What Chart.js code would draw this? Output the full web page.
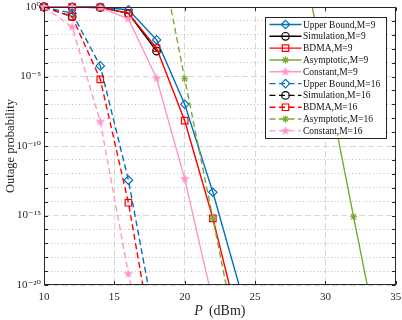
<!DOCTYPE html>
<html><head><meta charset="utf-8">
<script src="https://cdn.jsdelivr.net/npm/chart.js@4/dist/chart.umd.min.js"></script>
<style>html,body{margin:0;padding:0;background:#fff}#wrap{width:402px;height:320px;position:relative}</style>
</head><body><div id="wrap"><canvas id="c"></canvas></div>
<script>
// ---- data ----
const powerM9 = [10, 12, 14, 16, 18, 20, 22, 24];
const upperBoundM9 = [1, 0.99, 0.96, 0.63, 4.3e-3, 1.0e-7, 4.7e-14, 3.2e-21];
const simPowerM9 = [10, 12, 14, 16, 18];
const simulationM9 = [1, 0.99, 0.93, 0.35, 6.8e-4];
const bdmaM9 = [1, 0.99, 0.93, 0.35, 1.1e-3, 6.6e-9, 6.3e-16, 4e-24];
const constPowerM9 = [10, 12, 14, 16, 18, 20, 22];
const constantM9 = [1, 0.98, 0.9, 0.14, 7.4e-6, 4.3e-13, 6.3e-22];
const asymPowerM9 = [28, 30, 32, 34];
const asymptoticM9 = [2.5e5, 1.6e-5, 8.1e-16, 6e-26];

const powerM16 = [10, 12, 14, 16, 18];
const upperBoundM16 = [1, 0.355, 5.8e-5, 3.5e-13, 5e-24];
const simPowerM16 = [10, 12];
const simulationM16 = [1, 0.2];
const bdmaM16 = [1, 0.2, 6.3e-6, 8.3e-15, 2e-26];
const constantM16 = [1, 0.036, 5.6e-9, 6.3e-20, 1e-29];
const asymPowerM16 = [18, 20, 22, 24];
const asymptoticM16 = [1.6e5, 6.9e-6, 6.3e-16, 4e-26];

const xTicks = [10, 15, 20, 25, 30, 35];
const yTickExps = [0,-1,-2,-3,-4,-5,-6,-7,-8,-9,-10,-11,-12,-13,-14,-15,-16,-17,-18,-19,-20];
const yLabelExps = [0, -5, -10, -15, -20];
const seriesLabels = ['Upper Bound,M=9','Simulation,M=9','BDMA,M=9','Asymptotic,M=9','Constant,M=9',
  'Upper Bound,M=16','Simulation,M=16','BDMA,M=16','Asymptotic,M=16','Constant,M=16'];

// ---- styling ----
const FONT = '"Liberation Serif", "DejaVu Serif", serif';
const AXIS = '#262626';
const BLUE = '#0072BD', BLACK = '#000000', RED = '#FF0000', GREEN = '#77AC30', PINK = '#FF96C8';

function starCanvas(color, r) {
  const s = Math.ceil(r * 2 + 2);
  const c = document.createElement('canvas');
  c.width = s; c.height = s;
  const g = c.getContext('2d');
  g.beginPath();
  for (let i = 0; i < 10; i++) {
    const rr = i % 2 ? r * 0.42 : r;
    const a = -Math.PI / 2 + i * Math.PI / 5;
    g.lineTo(s / 2 + rr * Math.cos(a), s / 2 + rr * Math.sin(a));
  }
  g.closePath();
  g.fillStyle = color; g.fill();
  return c;
}
const pinkStar = starCanvas(PINK, 5);

const markers = {
  ub: {pointStyle: 'rectRot', pointRadius: 4.2},
  sim: {pointStyle: 'circle', pointRadius: 3.8},
  bdma: {pointStyle: 'rect', pointRadius: 4.6},
  asym: {pointStyle: 'star', pointRadius: 3.6},
  cons: {pointStyle: pinkStar, pointRadius: 5}
};

function pts(xs, ys) { return xs.map((x, i) => ({x: x, y: ys[i]})); }
function ds(idx, xs, ys, color, mk, dashed, asym) {
  return Object.assign({
    label: seriesLabels[idx],
    data: pts(xs, ys),
    borderColor: color,
    backgroundColor: color,
    borderWidth: 1.4,
    borderDash: dashed ? [6, 3.5] : [],
    pointBorderColor: color,
    pointBackgroundColor: 'rgba(0,0,0,0)',
    pointBorderWidth: 1.2,
    tension: 0,
    fill: false,
    order: 20 - idx,
    clip: asym ? {left: 0, top: 0, right: 0, bottom: 0} : {left: 8, top: 8, right: 0, bottom: 0}
  }, markers[mk]);
}

const datasets = [
  ds(0, powerM9, upperBoundM9, BLUE, 'ub', false),
  ds(1, simPowerM9, simulationM9, BLACK, 'sim', false),
  ds(2, powerM9, bdmaM9, RED, 'bdma', false),
  ds(3, asymPowerM9, asymptoticM9, GREEN, 'asym', false, true),
  ds(4, constPowerM9, constantM9, PINK, 'cons', false),
  ds(5, powerM16, upperBoundM16, BLUE, 'ub', true),
  ds(6, simPowerM16, simulationM16, BLACK, 'sim', true),
  ds(7, powerM16, bdmaM16, RED, 'bdma', true),
  ds(8, asymPowerM16, asymptoticM16, GREEN, 'asym', true, true),
  ds(9, powerM16, constantM16, PINK, 'cons', true)
];

const SUP = {'0':'\u2070','1':'\u00b9','2':'\u00b2','3':'\u00b3','4':'\u2074','5':'\u2075','6':'\u2076','7':'\u2077','8':'\u2078','9':'\u2079','-':'\u207b'};
function expOf(v) { return Math.round(Math.log10(v)); }

const framePlugin = {
  id: 'frame',
  afterDatasetsDraw(chart) {
    const ctx = chart.ctx, a = chart.chartArea, xs = chart.scales.x, ys = chart.scales.y;
    const L = Math.round(a.left) + 0.5, R = Math.round(a.right) - 0.5, T = Math.round(a.top) + 0.5, B = Math.round(a.bottom) - 0.5;
    ctx.save();
    ctx.setLineDash([]);
    ctx.strokeStyle = AXIS; ctx.lineWidth = 1;
    ctx.strokeRect(L, T, R - L, B - T);
    ctx.beginPath();
    xTicks.forEach(v => {
      const px = Math.round(xs.getPixelForValue(v)) + 0.5;
      ctx.moveTo(px, B); ctx.lineTo(px, B - 3.5);
      ctx.moveTo(px, T); ctx.lineTo(px, T + 3.5);
    });
    yTickExps.forEach(e => {
      const py = Math.round(ys.getPixelForValue(Number('1e' + e))) + 0.5;
      ctx.moveTo(L, py); ctx.lineTo(L + 3.5, py);
      ctx.moveTo(R, py); ctx.lineTo(R - 3.5, py);
    });
    ctx.stroke();
    ctx.restore();
  },
  afterDraw(chart) {
    const ctx = chart.ctx, a = chart.chartArea;
    // x axis title with italic P
    ctx.save();
    ctx.fillStyle = AXIS;
    ctx.textBaseline = 'middle';
    ctx.font = 'italic 14px ' + FONT;
    const wP = ctx.measureText('P').width;
    ctx.font = '14px ' + FONT;
    const rest = '(dBm)';
    const wR = ctx.measureText(rest).width;
    const gap = 6;
    const cx = (a.left + a.right) / 2;
    let x0 = cx - (wP + gap + wR) / 2;
    const ty = 311.5;
    ctx.font = 'italic 14px ' + FONT;
    ctx.fillText('P', x0, ty);
    ctx.font = '14px ' + FONT;
    ctx.fillText(rest, x0 + wP + gap, ty);
    ctx.restore();

    // legend box
    const bx = 265.5, by = 17.5, bw = 121, bh = 121;
    ctx.save();
    ctx.fillStyle = '#ffffff';
    ctx.fillRect(bx, by, bw, bh);
    ctx.strokeStyle = AXIS; ctx.lineWidth = 1; ctx.setLineDash([]);
    ctx.strokeRect(bx, by, bw, bh);
    ctx.font = '9.5px ' + FONT;
    ctx.textBaseline = 'middle';
    chart.data.datasets.forEach((d, i) => {
      const y = 24.5 + i * 11.82;
      ctx.save();
      ctx.strokeStyle = d.borderColor; ctx.lineWidth = d.borderWidth;
      ctx.setLineDash(d.borderDash || []);
      ctx.beginPath(); ctx.moveTo(269.5, y); ctx.lineTo(301.5, y); ctx.stroke();
      ctx.setLineDash([]);
      ctx.strokeStyle = d.pointBorderColor; ctx.fillStyle = d.pointBackgroundColor; ctx.lineWidth = d.pointBorderWidth;
      Chart.helpers.drawPoint(ctx, {pointStyle: d.pointStyle, radius: d.pointRadius, rotation: 0, borderWidth: d.pointBorderWidth}, 285.5, y);
      ctx.restore();
      ctx.fillStyle = '#111';
      ctx.fillText(d.label, 303, y + 0.5);
    });
    ctx.restore();
  }
};

new Chart(document.getElementById('c'), {
  type: 'line',
  data: {datasets: datasets},
  options: {
    responsive: true,
    maintainAspectRatio: false,
    animation: false,
    events: [],
    devicePixelRatio: 1,
    layout: {padding: {left: 0, right: 4, top: 7, bottom: 0}},
    plugins: {legend: {display: false}, tooltip: {enabled: false}},
    scales: {
      x: {
        type: 'linear', min: 10, max: 35,
        afterBuildTicks: s => { s.ticks = xTicks.map(v => ({value: v})); },
        afterFit: s => { s.height = 35; s.paddingLeft = 0; s.paddingRight = 0; },
        ticks: {autoSkip: false, maxRotation: 0, padding: 6, color: AXIS, font: {family: FONT, size: 11}},
        grid: {drawTicks: false, color: '#d8d8d8', lineWidth: 1},
        border: {display: false, dash: [6, 3]}
      },
      y: {
        type: 'logarithmic', min: 1e-20, max: 1,
        afterBuildTicks: s => { s.ticks = yTickExps.map(e => ({value: Number('1e' + e)})); },
        afterFit: s => { s.width = 44; s.paddingTop = 0; s.paddingBottom = 0; },
        ticks: {
          autoSkip: false, padding: 3, color: AXIS, font: {family: FONT, size: 11},
          callback: v => {
            const e = expOf(v);
            return yLabelExps.includes(e) ? '10' + String(e).split('').map(ch => SUP[ch]).join('') : '';
          }
        },
        grid: {
          drawTicks: false, lineWidth: 1,
          color: c => (c.tick && expOf(c.tick.value) % 5 === 0) ? '#d8d8d8' : '#bcbcbc'
        },
        border: {
          display: false,
          dash: c => c.tick ? (expOf(c.tick.value) % 5 === 0 ? [6, 3] : [1, 2.5]) : []
        },
        title: {display: true, text: 'Outage probability', color: AXIS, font: {family: FONT, size: 12.5}, padding: {top: 3, bottom: 0}}
      }
    }
  },
  plugins: [framePlugin]
});
</script>
</body></html>
